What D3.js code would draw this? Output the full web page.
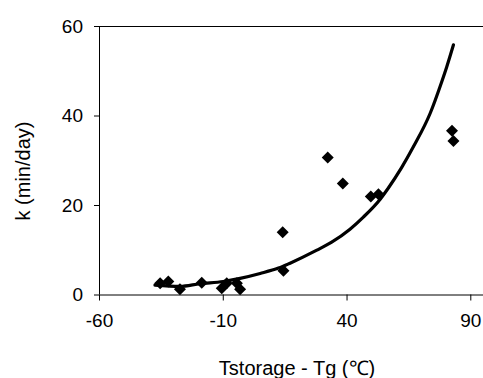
<!DOCTYPE html>
<html>
<head>
  <meta charset="utf-8">
  <script src="https://d3js.org/d3.v7.min.js"></script>
  <style>
    body { margin: 0; background: white; }
    svg { display: block; font-family: "Liberation Sans", Arial, sans-serif; }
    text { fill: #000; }
  </style>
</head>
<body>
  <svg id="chart" width="483" height="378"></svg>
  <script>
    // measured points: T - Tg (C) vs k (min/day)
    const pointX = [-35.3, -32, -27.3, -18.5, -10.4, -8.4, -4.3, -3, 14.5, 14.2, 32.4, 38.5, 49.8, 52.9, 82.6, 83.2];
    const pointY = [2.5, 2.9, 1.2, 2.6, 1.4, 2.5, 2.5, 1.2, 5.3, 13.9, 30.6, 24.8, 21.9, 22.4, 36.6, 34.3];

    // fitted curve
    const curveX = [-37.4, -27.3, -19.2, -9.8, -3.0, 5.1, 12.5, 17.2, 28.0, 34.0, 41.4, 46.8, 53.6, 56.9, 62.3, 67.0, 73.8, 78.5, 80.5, 83.2];
    const curveY = [2.1, 1.8, 2.4, 2.9, 3.6, 4.7, 5.9, 7.0, 9.9, 11.7, 14.6, 17.3, 21.3, 23.8, 28.4, 33.0, 40.5, 47.6, 50.9, 55.8];

    const xTicks = [-60, -10, 40, 90];
    const yTicks = [0, 20, 40, 60];

    const svg = d3.select("#chart");
    const plotLeft = 99, plotRight = 470.3, plotTop = 26, plotBottom = 294.5;

    const x = d3.scaleLinear().domain([-60, 90]).range([plotLeft, plotRight]);
    const y = d3.scaleLinear().domain([0, 60]).range([plotBottom, plotTop]);

    // frame (plot area runs off the right edge)
    svg.append("line").attr("x1", plotLeft).attr("x2", 483).attr("y1", plotTop + 0.5).attr("y2", plotTop + 0.5)
      .attr("stroke", "#000").attr("stroke-width", 1);

    const fmt = d => String(d); // plain hyphen minus, like the original

    const xAxis = svg.append("g").attr("transform", `translate(0,${plotBottom})`)
      .call(d3.axisBottom(x).tickValues(xTicks).tickFormat(fmt).tickSize(6).tickPadding(13));
    xAxis.select(".domain").attr("d", `M${plotLeft},0.5H483`);

    const yAxis = svg.append("g").attr("transform", `translate(${plotLeft},0)`)
      .call(d3.axisLeft(y).tickValues(yTicks).tickFormat(fmt).tickSize(5).tickPadding(11));
    yAxis.select(".domain").attr("d", `M0.5,${plotTop}V${plotBottom}`);

    svg.selectAll(".tick text").attr("font-size", 19).attr("font-family", "Liberation Sans, Arial, sans-serif");
    svg.selectAll(".domain, .tick line").attr("stroke", "#000");

    // curve
    const curve = curveX.map((d, i) => [d, curveY[i]]);
    svg.append("path").datum(curve)
      .attr("fill", "none").attr("stroke", "#000").attr("stroke-width", 3.2)
      .attr("stroke-linejoin", "round").attr("stroke-linecap", "round")
      .attr("d", d3.line().x(d => x(d[0])).y(d => y(d[1])).curve(d3.curveMonotoneX));

    // diamonds
    const diamond = d3.symbol().type(d3.symbolSquare).size(72);
    svg.append("g").selectAll("path").data(pointX)
      .join("path")
      .attr("d", diamond)
      .attr("transform", (d, i) => `translate(${x(d)},${y(pointY[i])}) rotate(45)`)
      .attr("fill", "#000");

    // axis titles
    svg.append("text").attr("x", 297).attr("y", 375).attr("text-anchor", "middle")
      .attr("font-size", 20).text("Tstorage - Tg (\u2103)");

    svg.append("text").attr("transform", "translate(30,171) rotate(-90)").attr("text-anchor", "middle")
      .attr("font-size", 20).text("k (min/day)");
  </script>
</body>
</html>
